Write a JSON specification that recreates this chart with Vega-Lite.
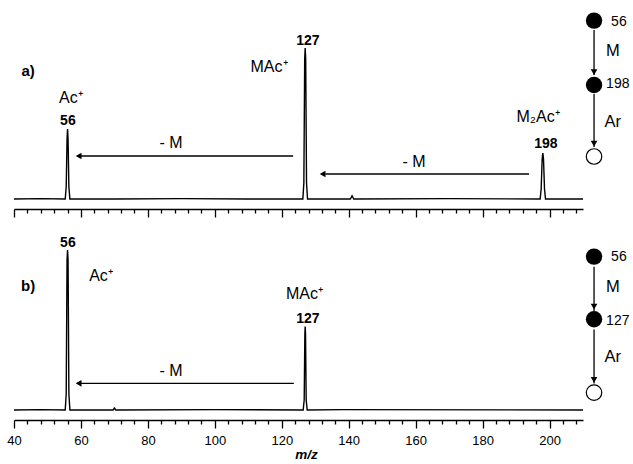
{
  "$schema": "https://vega.github.io/schema/vega-lite/v6.json",
  "padding": {"left": 6, "top": 12, "right": 0, "bottom": 0},
  "background": "white",
  "bounds": "flush",
  "spacing": 15,
  "config": {"view": {"stroke": null}, "font": "Liberation Sans", "text": {"font": "Liberation Sans", "color": "black"}},
  "datasets": {
    "spectrum": [
      {"panel": "a", "mz": 40, "v": 0}, {"panel": "a", "mz": 48, "v": 0.2}, {"panel": "a", "mz": 55.3, "v": 0}, {"panel": "a", "mz": 55.6, "v": 6}, {"panel": "a", "mz": 55.85, "v": 30}, {"panel": "a", "mz": 56.0, "v": 35}, {"panel": "a", "mz": 56.15, "v": 30}, {"panel": "a", "mz": 56.4, "v": 6}, {"panel": "a", "mz": 56.7, "v": 0},
      {"panel": "a", "mz": 70, "v": 0}, {"panel": "a", "mz": 90, "v": 0.2}, {"panel": "a", "mz": 110, "v": 0}, {"panel": "a", "mz": 126.3, "v": 0}, {"panel": "a", "mz": 126.6, "v": 8}, {"panel": "a", "mz": 126.85, "v": 70}, {"panel": "a", "mz": 127.0, "v": 75.5}, {"panel": "a", "mz": 127.15, "v": 70}, {"panel": "a", "mz": 127.4, "v": 8}, {"panel": "a", "mz": 127.7, "v": 0},
      {"panel": "a", "mz": 140.5, "v": 0}, {"panel": "a", "mz": 141, "v": 1.6}, {"panel": "a", "mz": 141.5, "v": 0}, {"panel": "a", "mz": 170, "v": 0.2}, {"panel": "a", "mz": 197.2, "v": 0}, {"panel": "a", "mz": 197.5, "v": 5}, {"panel": "a", "mz": 197.8, "v": 20}, {"panel": "a", "mz": 198.0, "v": 23}, {"panel": "a", "mz": 198.2, "v": 20}, {"panel": "a", "mz": 198.5, "v": 5}, {"panel": "a", "mz": 198.8, "v": 0}, {"panel": "a", "mz": 210, "v": 0},
      {"panel": "b", "mz": 40, "v": 0}, {"panel": "b", "mz": 48, "v": 0.2}, {"panel": "b", "mz": 55.3, "v": 0}, {"panel": "b", "mz": 55.6, "v": 8}, {"panel": "b", "mz": 55.85, "v": 75}, {"panel": "b", "mz": 56.0, "v": 80}, {"panel": "b", "mz": 56.15, "v": 75}, {"panel": "b", "mz": 56.4, "v": 8}, {"panel": "b", "mz": 56.7, "v": 0},
      {"panel": "b", "mz": 69.6, "v": 0}, {"panel": "b", "mz": 70, "v": 1}, {"panel": "b", "mz": 70.4, "v": 0}, {"panel": "b", "mz": 100, "v": 0.2}, {"panel": "b", "mz": 126.4, "v": 0}, {"panel": "b", "mz": 126.7, "v": 5}, {"panel": "b", "mz": 126.9, "v": 38}, {"panel": "b", "mz": 127.0, "v": 41.7}, {"panel": "b", "mz": 127.1, "v": 38}, {"panel": "b", "mz": 127.3, "v": 5}, {"panel": "b", "mz": 127.6, "v": 0}, {"panel": "b", "mz": 138, "v": 0.2}, {"panel": "b", "mz": 210, "v": 0}
    ],
    "peaklabels": [
      {"panel": "a", "mz": 127.8, "v": 79, "t": "127"}, {"panel": "a", "mz": 56.1, "v": 39, "t": "56"}, {"panel": "a", "mz": 198.9, "v": 27.5, "t": "198"},
      {"panel": "b", "mz": 56.1, "v": 83.7, "t": "56"}, {"panel": "b", "mz": 127.8, "v": 45.3, "t": "127"}
    ],
    "ions": [
      {"panel": "a", "mz": 116.2, "v": 66, "t": "MAc⁺"}, {"panel": "a", "mz": 57.0, "v": 50.5, "t": "Ac⁺"}, {"panel": "a", "mz": 196.6, "v": 41, "t": "M₂Ac⁺"}, {"panel": "a", "mz": 86.9, "v": 28, "t": "- M"}, {"panel": "a", "mz": 159.5, "v": 18.5, "t": "- M"},
      {"panel": "b", "mz": 66.0, "v": 67, "t": "Ac⁺"}, {"panel": "b", "mz": 126.8, "v": 57.8, "t": "MAc⁺"}, {"panel": "b", "mz": 86.9, "v": 19.5, "t": "- M"}
    ],
    "tags": [
      {"panel": "a", "mz": 44.2, "v": 64, "t": "a)"}, {"panel": "b", "mz": 44.2, "v": 62, "t": "b)"}
    ],
    "harrows": [
      {"panel": "a", "mz": 123.4, "mz2": 60, "v": 21.5}, {"panel": "a", "mz": 193.9, "mz2": 133, "v": 12.5}, {"panel": "b", "mz": 123.6, "mz2": 60, "v": 13.35}
    ],
    "lheads": [
      {"panel": "a", "mz": 59.3, "v": 21.5}, {"panel": "a", "mz": 132.2, "v": 12.5}, {"panel": "b", "mz": 59.3, "v": 13.35}
    ],
    "vlinks": [
      {"panel": "a", "mz": 213.3, "v": 84.5, "v2": 62}, {"panel": "a", "mz": 213.3, "v": 52.5, "v2": 26},
      {"panel": "b", "mz": 213.3, "v": 71.6, "v2": 49.5}, {"panel": "b", "mz": 213.3, "v": 40.3, "v2": 13.3}
    ],
    "dheads": [
      {"panel": "a", "mz": 213.3, "v": 63.4}, {"panel": "a", "mz": 213.3, "v": 27.7},
      {"panel": "b", "mz": 213.3, "v": 51.7}, {"panel": "b", "mz": 213.3, "v": 15.1}
    ],
    "fullnodes": [
      {"panel": "a", "mz": 213.3, "v": 89.2}, {"panel": "a", "mz": 213.3, "v": 57},
      {"panel": "b", "mz": 213.3, "v": 76.7}, {"panel": "b", "mz": 213.3, "v": 45.35}
    ],
    "opennodes": [
      {"panel": "a", "mz": 213.3, "v": 21.25}, {"panel": "b", "mz": 213.3, "v": 8.7}
    ],
    "nodelabels": [
      {"panel": "a", "mz": 218.4, "v": 88.5, "t": "56"}, {"panel": "a", "mz": 216.9, "v": 57.5, "t": "198"},
      {"panel": "b", "mz": 218.4, "v": 76.3, "t": "56"}, {"panel": "b", "mz": 216.9, "v": 44.5, "t": "127"}
    ],
    "steps": [
      {"panel": "a", "mz": 218.9, "v": 74, "t": "M"}, {"panel": "a", "mz": 218.9, "v": 38.5, "t": "Ar"},
      {"panel": "b", "mz": 218.9, "v": 61.3, "t": "M"}, {"panel": "b", "mz": 218.9, "v": 26.3, "t": "Ar"}
    ]
  },
  "vconcat": [
    {
      "width": 569, "height": 196,
      "resolve": {"axis": {"x": "independent"}},
      "layer": [
        {"data": {"name": "spectrum"}, "transform": [{"filter": "datum.panel === 'a'"}],
         "mark": {"type": "line", "color": "black", "strokeWidth": 1.4},
         "encoding": {
           "x": {"field": "mz", "type": "quantitative", "scale": {"domain": [40, 210], "nice": false, "zero": false},
                 "axis": {"orient": "bottom", "values": [40, 60, 80, 100, 120, 140, 160, 180, 200], "labels": false, "title": null, "grid": false,
                          "domainColor": "black", "domainWidth": 1.5, "tickColor": "black", "tickWidth": 1.3, "tickSize": 8}},
           "y": {"field": "v", "type": "quantitative", "scale": {"domain": [-5, 93], "nice": false, "zero": false}, "axis": null}
         }},
        {"data": {"name": "peaklabels"}, "transform": [{"filter": "datum.panel === 'a'"}],
         "mark": {"type": "text", "fontSize": 14, "fontWeight": "bold", "baseline": "middle", "align": "center"},
         "encoding": {"x": {"field": "mz", "type": "quantitative",
                            "axis": {"orient": "bottom", "values": [44,48,52,56,64,68,72,76,84,88,92,96,104,108,112,116,124,128,132,136,144,148,152,156,164,168,172,176,184,188,192,196,204,208],
                                     "labels": false, "title": null, "grid": false, "domain": false, "tickColor": "black", "tickWidth": 1.3, "tickSize": 4}},
                      "y": {"field": "v", "type": "quantitative"}, "text": {"field": "t"}}},
        {"data": {"name": "ions"}, "transform": [{"filter": "datum.panel === 'a'"}],
         "mark": {"type": "text", "fontSize": 16, "baseline": "middle", "align": "center"},
         "encoding": {"x": {"field": "mz", "type": "quantitative", "axis": null}, "y": {"field": "v", "type": "quantitative"}, "text": {"field": "t"}}},
        {"data": {"name": "tags"}, "transform": [{"filter": "datum.panel === 'a'"}],
         "mark": {"type": "text", "fontSize": 15, "fontWeight": "bold", "baseline": "middle", "align": "center"},
         "encoding": {"x": {"field": "mz", "type": "quantitative", "axis": null}, "y": {"field": "v", "type": "quantitative"}, "text": {"field": "t"}}},
        {"data": {"name": "harrows"}, "transform": [{"filter": "datum.panel === 'a'"}],
         "mark": {"type": "rule", "color": "black", "strokeWidth": 1.3},
         "encoding": {"x": {"field": "mz", "type": "quantitative", "axis": null}, "x2": {"field": "mz2"}, "y": {"field": "v", "type": "quantitative"}}},
        {"data": {"name": "lheads"}, "transform": [{"filter": "datum.panel === 'a'"}],
         "mark": {"type": "point", "shape": "triangle-left", "filled": true, "color": "black", "opacity": 1, "size": 45},
         "encoding": {"x": {"field": "mz", "type": "quantitative", "axis": null}, "y": {"field": "v", "type": "quantitative"}}},
        {"data": {"name": "vlinks"}, "transform": [{"filter": "datum.panel === 'a'"}],
         "mark": {"type": "rule", "color": "black", "strokeWidth": 1.3},
         "encoding": {"x": {"field": "mz", "type": "quantitative", "axis": null}, "y": {"field": "v", "type": "quantitative"}, "y2": {"field": "v2"}}},
        {"data": {"name": "dheads"}, "transform": [{"filter": "datum.panel === 'a'"}],
         "mark": {"type": "point", "shape": "triangle-down", "filled": true, "color": "black", "opacity": 1, "size": 45},
         "encoding": {"x": {"field": "mz", "type": "quantitative", "axis": null}, "y": {"field": "v", "type": "quantitative"}}},
        {"data": {"name": "fullnodes"}, "transform": [{"filter": "datum.panel === 'a'"}],
         "mark": {"type": "point", "shape": "circle", "filled": true, "color": "black", "opacity": 1, "size": 269},
         "encoding": {"x": {"field": "mz", "type": "quantitative", "axis": null}, "y": {"field": "v", "type": "quantitative"}}},
        {"data": {"name": "opennodes"}, "transform": [{"filter": "datum.panel === 'a'"}],
         "mark": {"type": "point", "shape": "circle", "filled": true, "fill": "white", "stroke": "black", "strokeWidth": 1.2, "opacity": 1, "size": 240},
         "encoding": {"x": {"field": "mz", "type": "quantitative", "axis": null}, "y": {"field": "v", "type": "quantitative"}}},
        {"data": {"name": "nodelabels"}, "transform": [{"filter": "datum.panel === 'a'"}],
         "mark": {"type": "text", "fontSize": 14, "baseline": "middle", "align": "left"},
         "encoding": {"x": {"field": "mz", "type": "quantitative", "axis": null}, "y": {"field": "v", "type": "quantitative"}, "text": {"field": "t"}}},
        {"data": {"name": "steps"}, "transform": [{"filter": "datum.panel === 'a'"}],
         "mark": {"type": "text", "fontSize": 16.5, "baseline": "middle", "align": "center"},
         "encoding": {"x": {"field": "mz", "type": "quantitative", "axis": null}, "y": {"field": "v", "type": "quantitative"}, "text": {"field": "t"}}}
      ]
    },
    {
      "width": 569, "height": 196,
      "resolve": {"axis": {"x": "independent"}},
      "layer": [
        {"data": {"name": "spectrum"}, "transform": [{"filter": "datum.panel === 'b'"}],
         "mark": {"type": "line", "color": "black", "strokeWidth": 1.4},
         "encoding": {
           "x": {"field": "mz", "type": "quantitative", "scale": {"domain": [40, 210], "nice": false, "zero": false},
                 "axis": {"orient": "bottom", "values": [40, 60, 80, 100, 120, 140, 160, 180, 200], "labelFlush": false, "labelOverlap": false,
                          "labelFont": "Liberation Sans", "labelFontSize": 13, "labelColor": "black", "labelPadding": 6,
                          "title": "m/z", "titleFont": "Liberation Sans", "titleFontSize": 13.5, "titleFontWeight": "bold", "titleFontStyle": "italic", "titleColor": "black", "titlePadding": 0, "titleX": 292, "titleAlign": "center",
                          "grid": false, "domainColor": "black", "domainWidth": 1.5, "tickColor": "black", "tickWidth": 1.3, "tickSize": 8}},
           "y": {"field": "v", "type": "quantitative", "scale": {"domain": [-5, 93], "nice": false, "zero": false}, "axis": null}
         }},
        {"data": {"name": "peaklabels"}, "transform": [{"filter": "datum.panel === 'b'"}],
         "mark": {"type": "text", "fontSize": 14, "fontWeight": "bold", "baseline": "middle", "align": "center"},
         "encoding": {"x": {"field": "mz", "type": "quantitative",
                            "axis": {"orient": "bottom", "values": [44,48,52,56,64,68,72,76,84,88,92,96,104,108,112,116,124,128,132,136,144,148,152,156,164,168,172,176,184,188,192,196,204,208],
                                     "labels": false, "title": null, "grid": false, "domain": false, "tickColor": "black", "tickWidth": 1.3, "tickSize": 4}},
                      "y": {"field": "v", "type": "quantitative"}, "text": {"field": "t"}}},
        {"data": {"name": "ions"}, "transform": [{"filter": "datum.panel === 'b'"}],
         "mark": {"type": "text", "fontSize": 16, "baseline": "middle", "align": "center"},
         "encoding": {"x": {"field": "mz", "type": "quantitative", "axis": null}, "y": {"field": "v", "type": "quantitative"}, "text": {"field": "t"}}},
        {"data": {"name": "tags"}, "transform": [{"filter": "datum.panel === 'b'"}],
         "mark": {"type": "text", "fontSize": 15, "fontWeight": "bold", "baseline": "middle", "align": "center"},
         "encoding": {"x": {"field": "mz", "type": "quantitative", "axis": null}, "y": {"field": "v", "type": "quantitative"}, "text": {"field": "t"}}},
        {"data": {"name": "harrows"}, "transform": [{"filter": "datum.panel === 'b'"}],
         "mark": {"type": "rule", "color": "black", "strokeWidth": 1.3},
         "encoding": {"x": {"field": "mz", "type": "quantitative", "axis": null}, "x2": {"field": "mz2"}, "y": {"field": "v", "type": "quantitative"}}},
        {"data": {"name": "lheads"}, "transform": [{"filter": "datum.panel === 'b'"}],
         "mark": {"type": "point", "shape": "triangle-left", "filled": true, "color": "black", "opacity": 1, "size": 45},
         "encoding": {"x": {"field": "mz", "type": "quantitative", "axis": null}, "y": {"field": "v", "type": "quantitative"}}},
        {"data": {"name": "vlinks"}, "transform": [{"filter": "datum.panel === 'b'"}],
         "mark": {"type": "rule", "color": "black", "strokeWidth": 1.3},
         "encoding": {"x": {"field": "mz", "type": "quantitative", "axis": null}, "y": {"field": "v", "type": "quantitative"}, "y2": {"field": "v2"}}},
        {"data": {"name": "dheads"}, "transform": [{"filter": "datum.panel === 'b'"}],
         "mark": {"type": "point", "shape": "triangle-down", "filled": true, "color": "black", "opacity": 1, "size": 45},
         "encoding": {"x": {"field": "mz", "type": "quantitative", "axis": null}, "y": {"field": "v", "type": "quantitative"}}},
        {"data": {"name": "fullnodes"}, "transform": [{"filter": "datum.panel === 'b'"}],
         "mark": {"type": "point", "shape": "circle", "filled": true, "color": "black", "opacity": 1, "size": 269},
         "encoding": {"x": {"field": "mz", "type": "quantitative", "axis": null}, "y": {"field": "v", "type": "quantitative"}}},
        {"data": {"name": "opennodes"}, "transform": [{"filter": "datum.panel === 'b'"}],
         "mark": {"type": "point", "shape": "circle", "filled": true, "fill": "white", "stroke": "black", "strokeWidth": 1.2, "opacity": 1, "size": 240},
         "encoding": {"x": {"field": "mz", "type": "quantitative", "axis": null}, "y": {"field": "v", "type": "quantitative"}}},
        {"data": {"name": "nodelabels"}, "transform": [{"filter": "datum.panel === 'b'"}],
         "mark": {"type": "text", "fontSize": 14, "baseline": "middle", "align": "left"},
         "encoding": {"x": {"field": "mz", "type": "quantitative", "axis": null}, "y": {"field": "v", "type": "quantitative"}, "text": {"field": "t"}}},
        {"data": {"name": "steps"}, "transform": [{"filter": "datum.panel === 'b'"}],
         "mark": {"type": "text", "fontSize": 16.5, "baseline": "middle", "align": "center"},
         "encoding": {"x": {"field": "mz", "type": "quantitative", "axis": null}, "y": {"field": "v", "type": "quantitative"}, "text": {"field": "t"}}}
      ]
    }
  ]
}
